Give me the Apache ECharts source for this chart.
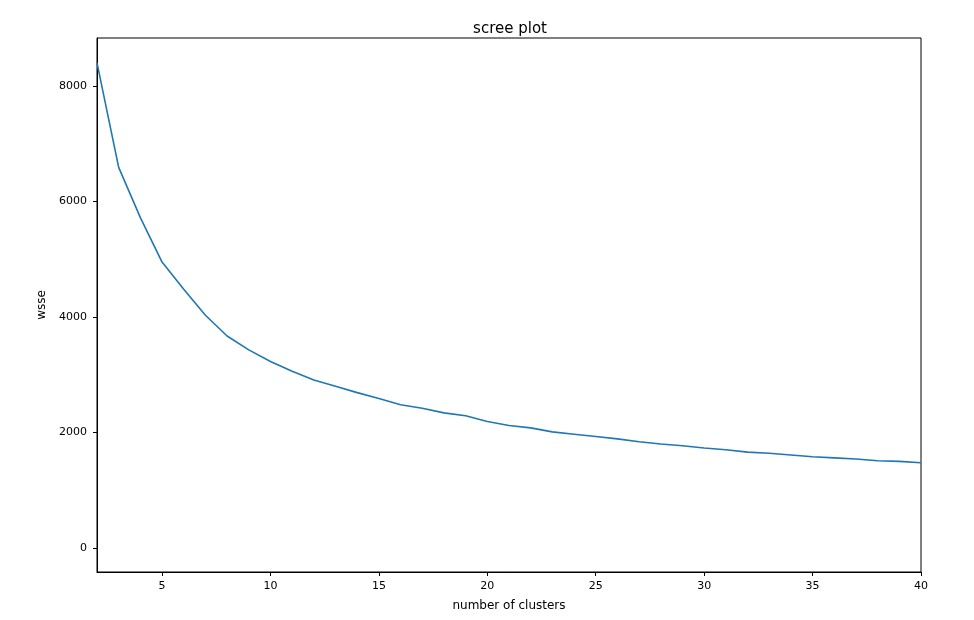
<!DOCTYPE html>
<html>
<head>
<meta charset="utf-8">
<script src="https://cdn.jsdelivr.net/npm/echarts@6/dist/echarts.min.js"></script>
<style>
  html, body { margin: 0; padding: 0; background: #fff; }
  #chart { width: 974px; height: 620px; }
</style>
</head>
<body>
<div id="chart"></div>
<script>
// number of clusters vs within-cluster sum of squared errors
const clusters = [2, 3, 4, 5, 6, 7, 8, 9, 10, 11, 12, 13, 14, 15, 16, 17, 18, 19, 20, 21,
  22, 23, 24, 25, 26, 27, 28, 29, 30, 31, 32, 33, 34, 35, 36, 37, 38, 39, 40];
const wsse = [8400, 6590, 5720, 4950, 4480, 4030, 3670, 3430, 3230, 3060, 2910, 2800, 2690, 2590,
  2480, 2420, 2340, 2290, 2190, 2120, 2080, 2010, 1970, 1930, 1890, 1840, 1800, 1770, 1730,
  1700, 1660, 1640, 1610, 1580, 1560, 1540, 1510, 1500, 1475];
const xTicks = [5, 10, 15, 20, 25, 30, 35, 40];
const yTicks = [0, 2000, 4000, 6000, 8000];

const font = 'DejaVu Sans';
const chart = echarts.init(document.getElementById('chart'));

const option = {
  animation: false,
  title: {
    text: 'scree plot',
    left: 505,
    textAlign: 'center',
    top: 17,
    textStyle: { fontFamily: font, fontSize: 15, fontWeight: 'normal', color: '#000' }
  },
  grid: {
    left: 97, right: 53, top: 38, bottom: 48,
    show: true, borderColor: '#000', borderWidth: 1, backgroundColor: '#fff'
  },
  xAxis: {
    type: 'value',
    min: 2,
    max: 40,
    name: 'number of clusters',
    nameLocation: 'middle',
    nameGap: 28,
    nameTextStyle: { fontFamily: font, fontSize: 12, color: '#000' },
    splitLine: { show: false },
    axisLine: { show: true, onZero: false, lineStyle: { color: '#000', width: 1 } },
    axisTick: { show: true, length: 4, customValues: xTicks, lineStyle: { color: '#000' } },
    axisLabel: { customValues: xTicks, fontFamily: font, fontSize: 11, color: '#000', margin: 9 }
  },
  yAxis: {
    type: 'value',
    min: -416,
    max: 8831,
    name: 'wsse',
    nameLocation: 'middle',
    nameGap: 36,
    nameRotate: 90,
    nameTextStyle: { fontFamily: font, fontSize: 12, color: '#000' },
    splitLine: { show: false },
    axisLine: { show: true, onZero: false, lineStyle: { color: '#000', width: 1 } },
    axisTick: { show: true, length: 4, customValues: yTicks, lineStyle: { color: '#000' } },
    axisLabel: {
      customValues: yTicks, fontFamily: font, fontSize: 11, color: '#000', margin: 10,
      formatter: v => String(v)
    }
  },
  series: [{
    type: 'line',
    data: clusters.map((c, i) => [c, wsse[i]]),
    showSymbol: false,
    lineStyle: { color: '#1f77b4', width: 1.6 },
    clip: true
  }]
};

chart.setOption(option);
</script>
</body>
</html>
